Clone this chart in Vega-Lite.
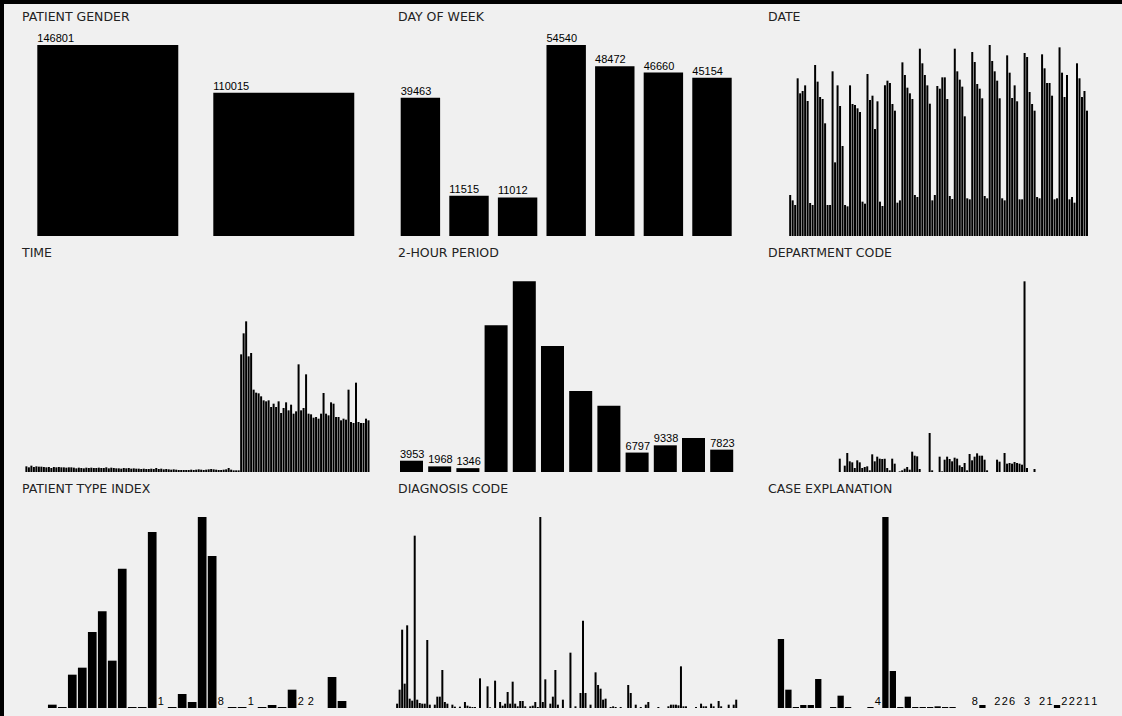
{
"$schema": "https://vega.github.io/schema/vega-lite/v6.json",
"background": "#000000",
"padding": {"left": 4, "top": 4, "right": 0, "bottom": 0},
"columns": 3,
"bounds": "flush",
"align": "each",
"spacing": {"row": 10, "column": 8},
"config": {
  "view": {"fill": "#f0f0f0", "stroke": "#f0f0f0", "strokeWidth": 12},
  "title": {"anchor": "start", "frame": "group", "offset": -13.5, "baseline": "middle", "dx": 12, "font": "DejaVu Sans", "fontSize": 12.5, "fontWeight": "normal", "color": "#222222"},
  "text": {"font": "Liberation Sans", "fontSize": 11, "color": "#000000"}
},
"datasets": {
  "gender": [{"gender": "F", "count": 146801, "label": "146801"}, {"gender": "M", "count": 110015, "label": "110015"}],
  "weekday": [{"day": "Fri", "count": 39463, "label": "39463"}, {"day": "Sat", "count": 11515, "label": "11515"}, {"day": "Sun", "count": 11012, "label": "11012"}, {"day": "Mon", "count": 54540, "label": "54540"}, {"day": "Tue", "count": 48472, "label": "48472"}, {"day": "Wed", "count": 46660, "label": "46660"}, {"day": "Thu", "count": 45154, "label": "45154"}],
  "date": [{"day":1,"count":763},{"day":2,"count":663},{"day":3,"count":577},{"day":4,"count":2933},{"day":5,"count":2654},{"day":6,"count":2697},{"day":7,"count":2802},{"day":8,"count":2511},{"day":9,"count":614},{"day":10,"count":577},
{"day":11,"count":3181},{"day":12,"count":2871},{"day":13,"count":2585},{"day":14,"count":2548},{"day":15,"count":2096},{"day":16,"count":577},{"day":17,"count":577},{"day":18,"count":3063},{"day":19,"count":1370},{"day":20,"count":2802},
{"day":21,"count":2418},{"day":22,"count":1674},{"day":23,"count":577},{"day":24,"count":552},{"day":25,"count":2802},{"day":26,"count":2455},{"day":27,"count":2437},{"day":28,"count":2375},{"day":29,"count":2306},{"day":30,"count":639},
{"day":31,"count":601},{"day":32,"count":3013},{"day":33,"count":2530},{"day":34,"count":2610},{"day":35,"count":1990},{"day":36,"count":2505},{"day":37,"count":639},{"day":38,"count":558},{"day":39,"count":2802},{"day":40,"count":2889},
{"day":41,"count":2846},{"day":42,"count":2455},{"day":43,"count":2331},{"day":44,"count":620},{"day":45,"count":663},{"day":46,"count":3230},{"day":47,"count":2995},{"day":48,"count":2759},{"day":49,"count":2654},{"day":50,"count":2548},
{"day":51,"count":763},{"day":52,"count":725},{"day":53,"count":3484},{"day":54,"count":3212},{"day":55,"count":2995},{"day":56,"count":2802},{"day":57,"count":2461},{"day":58,"count":663},{"day":59,"count":763},{"day":60,"count":2790},
{"day":61,"count":2740},{"day":62,"count":2951},{"day":63,"count":2951},{"day":64,"count":2548},{"day":65,"count":744},{"day":66,"count":688},{"day":67,"count":3484},{"day":68,"count":3063},{"day":69,"count":2908},{"day":70,"count":2778},
{"day":71,"count":2226},{"day":72,"count":701},{"day":73,"count":682},{"day":74,"count":3422},{"day":75,"count":3236},{"day":76,"count":2827},{"day":77,"count":2740},{"day":78,"count":2561},{"day":79,"count":744},{"day":80,"count":701},
{"day":81,"count":3553},{"day":82,"count":3255},{"day":83,"count":3063},{"day":84,"count":2889},{"day":85,"count":2561},{"day":86,"count":701},{"day":87,"count":663},{"day":88,"count":3360},{"day":89,"count":3038},{"day":90,"count":2567},
{"day":91,"count":2802},{"day":92,"count":2505},{"day":93,"count":682},{"day":94,"count":682},{"day":95,"count":3404},{"day":96,"count":3329},{"day":97,"count":2678},{"day":98,"count":2455},{"day":99,"count":2331},{"day":100,"count":725},
{"day":101,"count":701},{"day":102,"count":3379},{"day":103,"count":3119},{"day":104,"count":2846},{"day":105,"count":2846},{"day":106,"count":2610},{"day":107,"count":682},{"day":108,"count":701},{"day":109,"count":3509},{"day":110,"count":3038},
{"day":111,"count":2585},{"day":112,"count":2995},{"day":113,"count":682},{"day":114,"count":725},{"day":115,"count":620},{"day":116,"count":3212},{"day":117,"count":2933},{"day":118,"count":2585},{"day":119,"count":2697},{"day":120,"count":2331}],
  "time": [{"slot":0,"count":85},{"slot":1,"count":70},{"slot":2,"count":95},{"slot":3,"count":75},{"slot":4,"count":85},{"slot":5,"count":80},{"slot":6,"count":80},{"slot":7,"count":75},{"slot":8,"count":70},{"slot":9,"count":75},
{"slot":10,"count":60},{"slot":11,"count":75},{"slot":12,"count":70},{"slot":13,"count":75},{"slot":14,"count":70},{"slot":15,"count":70},{"slot":16,"count":65},{"slot":17,"count":70},{"slot":18,"count":70},{"slot":19,"count":65},
{"slot":20,"count":55},{"slot":21,"count":65},{"slot":22,"count":60},{"slot":23,"count":55},{"slot":24,"count":65},{"slot":25,"count":60},{"slot":26,"count":65},{"slot":27,"count":60},{"slot":28,"count":60},{"slot":29,"count":65},
{"slot":30,"count":60},{"slot":31,"count":60},{"slot":32,"count":70},{"slot":33,"count":55},{"slot":34,"count":65},{"slot":35,"count":60},{"slot":36,"count":55},{"slot":37,"count":55},{"slot":38,"count":50},{"slot":39,"count":60},
{"slot":40,"count":55},{"slot":41,"count":60},{"slot":42,"count":50},{"slot":43,"count":55},{"slot":44,"count":50},{"slot":45,"count":50},{"slot":46,"count":45},{"slot":47,"count":50},{"slot":48,"count":45},{"slot":49,"count":45},
{"slot":50,"count":50},{"slot":51,"count":45},{"slot":52,"count":60},{"slot":53,"count":45},{"slot":54,"count":50},{"slot":55,"count":40},{"slot":56,"count":45},{"slot":57,"count":40},{"slot":58,"count":35},{"slot":59,"count":40},
{"slot":60,"count":35},{"slot":61,"count":30},{"slot":62,"count":30},{"slot":63,"count":30},{"slot":64,"count":30},{"slot":65,"count":30},{"slot":66,"count":35},{"slot":67,"count":30},{"slot":68,"count":35},{"slot":69,"count":40},
{"slot":70,"count":35},{"slot":71,"count":30},{"slot":72,"count":35},{"slot":73,"count":40},{"slot":74,"count":45},{"slot":75,"count":40},{"slot":76,"count":35},{"slot":77,"count":30},{"slot":78,"count":30},{"slot":79,"count":35},
{"slot":80,"count":40},{"slot":81,"count":60},{"slot":82,"count":35},{"slot":83,"count":25},{"slot":84,"count":25},{"slot":85,"count":25},
{"slot":86,"count":1765},{"slot":87,"count":2080},{"slot":88,"count":2260},{"slot":89,"count":1735},{"slot":90,"count":1785},{"slot":91,"count":1235},{"slot":92,"count":1190},{"slot":93,"count":1180},{"slot":94,"count":1135},{"slot":95,"count":1075},
{"slot":96,"count":1060},{"slot":97,"count":1075},{"slot":98,"count":975},{"slot":99,"count":1025},{"slot":100,"count":975},{"slot":101,"count":1060},{"slot":102,"count":885},{"slot":103,"count":960},{"slot":104,"count":1045},{"slot":105,"count":925},
{"slot":106,"count":1010},{"slot":107,"count":875},{"slot":108,"count":910},{"slot":109,"count":1615},{"slot":110,"count":925},{"slot":111,"count":960},{"slot":112,"count":1465},{"slot":113,"count":875},{"slot":114,"count":865},{"slot":115,"count":815},
{"slot":116,"count":825},{"slot":117,"count":800},{"slot":118,"count":875},{"slot":119,"count":1185},{"slot":120,"count":875},{"slot":121,"count":850},{"slot":122,"count":1045},{"slot":123,"count":1025},{"slot":124,"count":825},{"slot":125,"count":825},
{"slot":126,"count":775},{"slot":127,"count":800},{"slot":128,"count":785},{"slot":129,"count":1235},{"slot":130,"count":750},{"slot":131,"count":735},{"slot":132,"count":1340},{"slot":133,"count":750},{"slot":134,"count":735},{"slot":135,"count":735},
{"slot":136,"count":800},{"slot":137,"count":775}],
  "period": [{"period":"00-02","count":3953,"label":"3953"},{"period":"02-04","count":1968,"label":"1968"},{"period":"04-06","count":1346,"label":"1346"},{"period":"06-08","count":51345},{"period":"08-10","count":66745},{"period":"10-12","count":44100},{"period":"12-14","count":28350},{"period":"14-16","count":23205},{"period":"16-18","count":6797,"label":"6797"},{"period":"18-20","count":9338,"label":"9338"},{"period":"20-22","count":11900},{"period":"22-24","count":7823,"label":"7823"}],
  "department": [{"code":0,"count":4000},{"code":2,"count":1900},{"code":3,"count":5700},{"code":4,"count":3200},{"code":5,"count":2900},{"code":6,"count":1200},{"code":7,"count":3500},{"code":8,"count":2900},{"code":9,"count":1200},{"code":10,"count":1500},
{"code":11,"count":1700},{"code":12,"count":500},{"code":13,"count":5300},{"code":14,"count":3200},{"code":15,"count":4600},{"code":16,"count":4000},{"code":17,"count":3900},{"code":18,"count":4000},{"code":19,"count":1200},{"code":20,"count":500},
{"code":21,"count":4000},{"code":22,"count":2500},{"code":24,"count":200},{"code":25,"count":500},{"code":26,"count":1000},{"code":27,"count":1500},{"code":28,"count":700},{"code":29,"count":6100},{"code":30,"count":4900},{"code":31,"count":4700},
{"code":32,"count":900},{"code":36,"count":11700},{"code":37,"count":500},{"code":40,"count":4600},{"code":41,"count":200},{"code":42,"count":3700},{"code":43,"count":4600},{"code":44,"count":3900},{"code":45,"count":3200},{"code":46,"count":4300},
{"code":47,"count":4000},{"code":48,"count":2000},{"code":49,"count":1500},{"code":50,"count":2700},{"code":51,"count":500},{"code":52,"count":5400},{"code":53,"count":3500},{"code":54,"count":4600},{"code":55,"count":5600},{"code":56,"count":4900},
{"code":57,"count":4900},{"code":58,"count":3700},{"code":59,"count":500},{"code":63,"count":3700},{"code":64,"count":3100},{"code":66,"count":5700},{"code":67,"count":2500},{"code":68,"count":2700},{"code":69,"count":2500},{"code":70,"count":3000},
{"code":71,"count":2700},{"code":72,"count":2500},{"code":73,"count":2200},{"code":74,"count":57200},{"code":75,"count":1200},{"code":78,"count":900}],
  "patienttype": [{"type":0,"count":820},{"type":1,"count":250},{"type":2,"count":8200},{"type":3,"count":9922},{"type":4,"count":18696},{"type":5,"count":23780},{"type":6,"count":11644},{"type":7,"count":34276},{"type":8,"count":250},{"type":9,"count":250},
{"type":10,"count":43296},{"type":11,"count":1,"label":"1"},{"type":12,"count":250},{"type":13,"count":3444},{"type":14,"count":1476},{"type":15,"count":46986},{"type":16,"count":37392},{"type":17,"count":8,"label":"8"},{"type":18,"count":250},{"type":19,"count":250},
{"type":20,"count":1,"label":"1"},{"type":21,"count":250},{"type":22,"count":738},{"type":23,"count":250},{"type":24,"count":4510},{"type":25,"count":2,"label":"2"},{"type":26,"count":2,"label":"2"},{"type":28,"count":7626},{"type":29,"count":1722}],
  "diagnosis": [{"code":0,"count":1300},{"code":1,"count":5500},{"code":2,"count":23500},{"code":3,"count":7300},{"code":4,"count":24800},{"code":5,"count":2800},{"code":6,"count":2200},{"code":7,"count":51700},{"code":8,"count":2500},{"code":9,"count":1500},
{"code":10,"count":1300},{"code":11,"count":1300},{"code":12,"count":20400},{"code":13,"count":1000},{"code":15,"count":1000},{"code":16,"count":3400},{"code":17,"count":3400},{"code":18,"count":11400},{"code":19,"count":1800},{"code":20,"count":1300},
{"code":22,"count":1000},{"code":23,"count":400},{"code":25,"count":400},{"code":27,"count":1800},{"code":28,"count":700},{"code":29,"count":400},{"code":30,"count":300},{"code":31,"count":300},{"code":33,"count":8900},{"code":36,"count":6500},
{"code":37,"count":200},{"code":39,"count":8200},{"code":41,"count":1800},{"code":42,"count":700},{"code":43,"count":1300},{"code":44,"count":4800},{"code":45,"count":1300},{"code":46,"count":7900},{"code":47,"count":1300},{"code":48,"count":500},
{"code":49,"count":2100},{"code":50,"count":2100},{"code":51,"count":500},{"code":53,"count":500},{"code":54,"count":700},{"code":55,"count":1800},{"code":56,"count":300},{"code":57,"count":57300},{"code":58,"count":1800},{"code":59,"count":8600},
{"code":61,"count":1300},{"code":62,"count":3400},{"code":63,"count":11400},{"code":64,"count":1000},{"code":66,"count":2500},{"code":69,"count":16600},{"code":71,"count":500},{"code":73,"count":4500},{"code":74,"count":26200},{"code":75,"count":4500},
{"code":77,"count":1000},{"code":79,"count":10700},{"code":80,"count":6900},{"code":81,"count":5800},{"code":82,"count":2500},{"code":83,"count":2800},{"code":85,"count":300},{"code":86,"count":500},{"code":87,"count":300},{"code":89,"count":300},
{"code":92,"count":6900},{"code":93,"count":4500},{"code":95,"count":1000},{"code":97,"count":300},{"code":99,"count":1000},{"code":100,"count":1800},{"code":104,"count":300},{"code":108,"count":500},{"code":109,"count":1000},{"code":110,"count":1000},
{"code":111,"count":1000},{"code":112,"count":800},{"code":113,"count":12500},{"code":114,"count":500},{"code":115,"count":500},{"code":119,"count":300},{"code":121,"count":1300},{"code":122,"count":500},{"code":123,"count":500},{"code":125,"count":1300},
{"code":126,"count":500},{"code":128,"count":2100},{"code":129,"count":500},{"code":132,"count":1000},{"code":134,"count":1000},{"code":135,"count":2500}],
  "caseexp": [{"code":0,"count":46161},{"code":1,"count":12265},{"code":2,"count":669},{"code":3,"count":2007},{"code":4,"count":2007},{"code":5,"count":19401},{"code":7,"count":669},{"code":8,"count":8251},{"code":9,"count":669},{"code":12,"count":669},
{"code":13,"count":4,"label":"4"},{"code":14,"count":127779},{"code":15,"count":24753},{"code":16,"count":669},{"code":17,"count":7582},{"code":18,"count":669},{"code":19,"count":669},{"code":20,"count":669},{"code":21,"count":1115},{"code":22,"count":669},
{"code":23,"count":669},{"code":26,"count":8,"label":"8"},{"code":27,"count":2007},{"code":29,"count":2,"label":"2"},{"code":30,"count":2,"label":"2"},{"code":31,"count":6,"label":"6"},{"code":33,"count":3,"label":"3"},{"code":35,"count":2,"label":"2"},{"code":36,"count":1,"label":"1"},{"code":37,"count":2007},
{"code":38,"count":2,"label":"2"},{"code":39,"count":2,"label":"2"},{"code":40,"count":2,"label":"2"},{"code":41,"count":1,"label":"1"},{"code":42,"count":1,"label":"1"}]
},
"concat": [
  {
    "title": "PATIENT GENDER", "width": 368, "height": 226,
    "data": {"name": "gender"},
    "layer": [
      {"mark": {"type": "bar", "color": "#000000"},
       "encoding": {
         "x": {"field": "gender", "type": "nominal", "sort": null, "axis": null, "scale": {"paddingInner": 0.199, "paddingOuter": 0.145, "align": 0.535}},
         "y": {"field": "count", "type": "quantitative", "axis": null, "scale": {"domain": [0, 173702], "nice": false}}}},
      {"transform": [{"filter": "isValid(datum.label)"}],
       "mark": {"type": "text", "align": "left", "baseline": "bottom", "dy": -1},
       "encoding": {
         "x": {"field": "gender", "type": "nominal", "sort": null, "axis": null, "bandPosition": 0},
         "y": {"field": "count", "type": "quantitative", "axis": null},
         "text": {"field": "label"}}}
    ]
  },
  {
    "title": "DAY OF WEEK", "width": 362, "height": 226,
    "data": {"name": "weekday"},
    "layer": [
      {"mark": {"type": "bar", "color": "#000000"},
       "encoding": {
         "x": {"field": "day", "type": "nominal", "sort": null, "axis": null, "scale": {"paddingInner": 0.189, "paddingOuter": 0.319, "align": 0.474}},
         "y": {"field": "count", "type": "quantitative", "axis": null, "scale": {"domain": [0, 64535], "nice": false}}}},
      {"transform": [{"filter": "isValid(datum.label)"}],
       "mark": {"type": "text", "align": "left", "baseline": "bottom", "dy": -1},
       "encoding": {
         "x": {"field": "day", "type": "nominal", "sort": null, "axis": null, "bandPosition": 0},
         "y": {"field": "count", "type": "quantitative", "axis": null},
         "text": {"field": "label"}}}
    ]
  },
  {
    "title": "DATE", "width": 367, "height": 226,
    "data": {"name": "date"},
    "mark": {"type": "bar", "color": "#000000", "orient": "vertical", "width": 2},
    "encoding": {
      "x": {"field": "day", "type": "quantitative", "axis": null, "scale": {"domain": [-10.7, 132.44], "nice": false, "zero": false}},
      "y": {"field": "count", "type": "quantitative", "axis": null, "scale": {"domain": [0, 4203.6], "nice": false}}
    }
  },
  {
    "title": "TIME", "width": 368, "height": 226,
    "data": {"name": "time"},
    "mark": {"type": "bar", "color": "#000000", "orient": "vertical", "width": 2},
    "encoding": {
      "x": {"field": "slot", "type": "quantitative", "axis": null, "scale": {"domain": [-4.56, 138.8], "nice": false, "zero": false}},
      "y": {"field": "count", "type": "quantitative", "axis": null, "scale": {"domain": [0, 3390], "nice": false}}
    }
  },
  {
    "title": "2-HOUR PERIOD", "width": 362, "height": 226,
    "data": {"name": "period"},
    "layer": [
      {"mark": {"type": "bar", "color": "#000000"},
       "encoding": {
         "x": {"field": "period", "type": "ordinal", "axis": null, "scale": {"paddingInner": 0.184, "paddingOuter": 0.51, "align": 0.486}},
         "y": {"field": "count", "type": "quantitative", "axis": null, "scale": {"domain": [0, 79100], "nice": false}}}},
      {"transform": [{"filter": "isValid(datum.label)"}],
       "mark": {"type": "text", "align": "left", "baseline": "bottom", "dy": -1},
       "encoding": {
         "x": {"field": "period", "type": "ordinal", "axis": null, "bandPosition": 0},
         "y": {"field": "count", "type": "quantitative", "axis": null},
         "text": {"field": "label"}}}
    ]
  },
  {
    "title": "DEPARTMENT CODE", "width": 367, "height": 226,
    "data": {"name": "department"},
    "mark": {"type": "bar", "color": "#000000", "orient": "vertical", "width": 2},
    "encoding": {
      "x": {"field": "code", "type": "quantitative", "axis": null, "scale": {"domain": [-31.55, 111.44], "nice": false, "zero": false}},
      "y": {"field": "count", "type": "quantitative", "axis": null, "scale": {"domain": [0, 67800], "nice": false}}
    }
  },
  {
    "title": "PATIENT TYPE INDEX", "width": 368, "height": 234,
    "data": {"name": "patienttype"},
    "layer": [
      {"mark": {"type": "bar", "color": "#000000", "orient": "vertical", "width": 8.7},
       "encoding": {
         "x": {"field": "type", "type": "quantitative", "axis": null, "scale": {"domain": [-3.734, 32.1], "nice": false, "zero": false}},
         "y": {"field": "count", "type": "quantitative", "axis": null, "scale": {"domain": [-1968, 55596], "nice": false, "zero": false}}}},
      {"transform": [{"filter": "isValid(datum.label)"}],
       "mark": {"type": "text", "align": "left", "baseline": "bottom", "dy": -1, "dx": -4.35},
       "encoding": {
         "x": {"field": "type", "type": "quantitative", "axis": null},
         "y": {"field": "count", "type": "quantitative", "axis": null},
         "text": {"field": "label"}}}
    ]
  },
  {
    "title": "DIAGNOSIS CODE", "width": 362, "height": 234,
    "data": {"name": "diagnosis"},
    "mark": {"type": "bar", "color": "#000000", "orient": "vertical", "width": 2},
    "encoding": {
      "x": {"field": "code", "type": "quantitative", "axis": null, "scale": {"domain": [-2.44, 137.7], "nice": false, "zero": false}},
      "y": {"field": "count", "type": "quantitative", "axis": null, "scale": {"domain": [-2400, 67800], "nice": false, "zero": false}}
    }
  },
  {
    "title": "CASE EXPLANATION", "width": 367, "height": 234,
    "data": {"name": "caseexp"},
    "layer": [
      {"mark": {"type": "bar", "color": "#000000", "orient": "vertical", "width": 6.3},
       "encoding": {
         "x": {"field": "code", "type": "quantitative", "axis": null, "scale": {"domain": [-2.673, 45.17], "nice": false, "zero": false}},
         "y": {"field": "count", "type": "quantitative", "axis": null, "scale": {"domain": [-5352, 151198], "nice": false, "zero": false}}}},
      {"transform": [{"filter": "isValid(datum.label)"}],
       "mark": {"type": "text", "align": "left", "baseline": "bottom", "dy": -1, "dx": -3.15},
       "encoding": {
         "x": {"field": "code", "type": "quantitative", "axis": null},
         "y": {"field": "count", "type": "quantitative", "axis": null},
         "text": {"field": "label"}}}
    ]
  }
]
}
